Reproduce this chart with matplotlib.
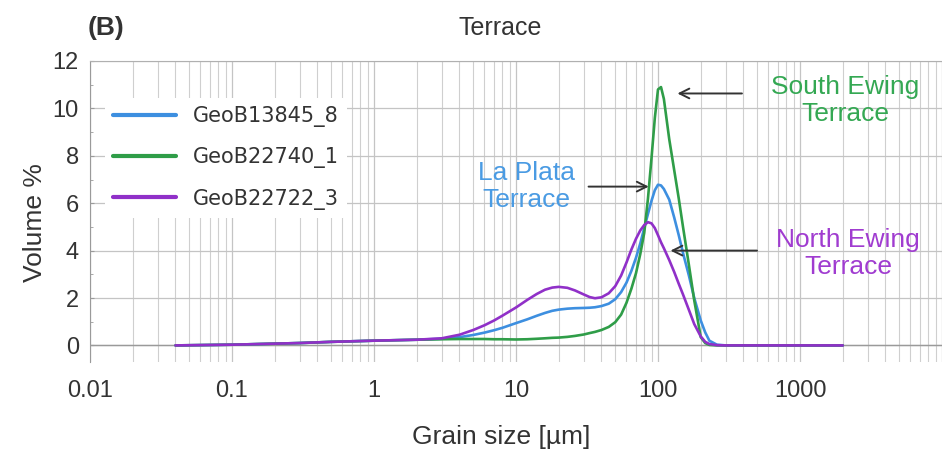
import matplotlib
matplotlib.use("Agg")
import matplotlib.pyplot as plt
from matplotlib.ticker import LogLocator, MultipleLocator, NullFormatter

# ---- data ----
sizes = [0.04, 0.1, 0.3, 0.5, 1, 2, 3, 4, 5, 6, 7, 8, 10, 12, 14, 16, 18, 20, 23,
         26, 30, 33, 36, 40, 45, 50, 55, 60, 65, 70, 75, 80, 85, 90, 95, 100, 105,
         110, 120, 130, 140, 150, 165, 180, 200, 215, 230, 260, 300, 500, 1000, 2000]
geob13845_8 = [0.0, 0.03, 0.1, 0.15, 0.2, 0.24, 0.28, 0.35, 0.44, 0.54, 0.64, 0.74,
               0.94, 1.1, 1.25, 1.37, 1.46, 1.51, 1.55, 1.57, 1.58, 1.59, 1.61, 1.66,
               1.76, 1.95, 2.25, 2.65, 3.15, 3.7, 4.3, 4.95, 5.55, 6.1, 6.55, 6.78,
               6.75, 6.6, 6.15, 5.4, 4.65, 3.9, 2.95, 2.0, 1.05, 0.55, 0.2, 0.03,
               0.0, 0.0, 0.0, 0.0]
geob22740_1 = [0.0, 0.03, 0.1, 0.15, 0.2, 0.24, 0.26, 0.27, 0.27, 0.27, 0.26, 0.26,
               0.25, 0.26, 0.28, 0.3, 0.32, 0.33, 0.36, 0.4, 0.46, 0.52, 0.57, 0.65,
               0.78, 0.98, 1.3, 1.8, 2.4, 3.05, 3.85, 4.75, 6.2, 7.9, 9.6, 10.8,
               10.9, 10.4, 8.7, 7.4, 6.2, 5.0, 3.4, 1.9, 0.35, 0.1, 0.02, 0.0,
               0.0, 0.0, 0.0, 0.0]
geob22722_3 = [0.0, 0.03, 0.1, 0.15, 0.2, 0.24, 0.3, 0.45, 0.65, 0.85, 1.05, 1.25,
               1.6, 1.92, 2.17, 2.35, 2.44, 2.47, 2.43, 2.32, 2.15, 2.04, 1.99, 2.03,
               2.2, 2.5, 2.95, 3.5, 4.05, 4.5, 4.85, 5.08, 5.2, 5.15, 4.95, 4.65,
               4.35, 4.1, 3.6, 3.1, 2.6, 2.15, 1.5, 0.9, 0.38, 0.15, 0.06, 0.01,
               0.0, 0.0, 0.0, 0.0]

series_names = ["GeoB13845_8", "GeoB22740_1", "GeoB22722_3"]
series_colors = ["#3d8fe0", "#2f9d48", "#9030c8"]
x_ticks = [0.01, 0.1, 1, 10, 100, 1000]
x_tick_labels = ["0.01", "0.1", "1", "10", "100", "1000"]
y_ticks = [0, 2, 4, 6, 8, 10, 12]

plt.rcParams['font.family'] = ['Liberation Sans', 'DejaVu Sans']

fig = plt.figure(figsize=(9.42, 4.55), dpi=100)
ax = fig.add_axes([90/942, 1-362/455, 852/942, (362-61)/455])

ax.set_xscale('log')
ax.set_xlim(0.01, 10000)
ax.set_ylim(-0.7, 12)

ax.set_xticks(x_ticks)
ax.set_xticklabels(x_tick_labels)
ax.xaxis.set_minor_locator(LogLocator(base=10, subs=range(2, 10), numticks=20))
ax.xaxis.set_minor_formatter(NullFormatter())
ax.set_yticks(y_ticks)
ax.yaxis.set_minor_locator(MultipleLocator(1))
ax.grid(True, which='major', axis='both', color='#c4c4c4', lw=0.9)
ax.grid(True, which='minor', axis='x', color='#cfcfcf', lw=0.8)
ax.axvline(10000, color='#c4c4c4', lw=0.9, zorder=0)
ax.axhline(0, color='#9a9a9a', lw=1.0, zorder=1)
ax.set_axisbelow(True)

for s in ['bottom', 'right']:
    ax.spines[s].set_visible(False)
ax.spines['left'].set_color('#9a9a9a')
ax.spines['top'].set_color('#b0b0b0')
ax.tick_params(axis='x', which='both', length=0, labelsize=17, pad=13, colors='#333333')
ax.tick_params(axis='y', which='major', direction='in', length=3, color='#9a9a9a',
               labelsize=17, pad=8, labelcolor='#333333')
ax.tick_params(axis='y', which='minor', direction='in', length=2, color='#9a9a9a')

series = [geob13845_8, geob22740_1, geob22722_3]
for vals, name, col in zip(series, series_names, series_colors):
    ax.plot(sizes, vals, color=col, lw=1.9, label=name, solid_capstyle='round',
            solid_joinstyle='round')

leg = ax.legend(loc='center left', bbox_to_anchor=(0.0176, 0.678), borderaxespad=0,
                frameon=True, facecolor='white', edgecolor='none', framealpha=1,
                prop={'family': 'DejaVu Sans', 'size': 15}, handlelength=3.0,
                handletextpad=0.8, labelspacing=0.97, borderpad=0.4)
for line in leg.get_lines():
    line.set_linewidth(3)
for t in leg.get_texts():
    t.set_color('#333333')

# annotations
arrow_kw = dict(arrowstyle='->,head_length=0.7,head_width=0.35', color='#333333', lw=1.4)
ax.annotate('', xy=(131, 10.63), xytext=(408, 10.63), arrowprops=arrow_kw)
ax.text(2075, 10.35, "South Ewing\nTerrace", color='#34a853', fontsize=19,
        ha='center', va='center', linespacing=1.15)
ax.annotate('', xy=(90, 6.7), xytext=(31, 6.7), arrowprops=arrow_kw)
ax.text(11.8, 6.7, "La Plata\nTerrace", color='#4a9be3', fontsize=19,
        ha='center', va='center', linespacing=1.15)
ax.annotate('', xy=(117, 4.0), xytext=(521, 4.0), arrowprops=arrow_kw)
ax.text(2180, 3.86, "North Ewing\nTerrace", color='#a03cd0', fontsize=19,
        ha='center', va='center', linespacing=1.15)

fig.text(500/942, 1-28/455, "Terrace", fontsize=18, ha='center', va='center', color='#333333')
fig.text(88/942, 1-28/455, "(B)", fontsize=19, fontweight='bold', ha='left', va='center',
         color='#333333')
fig.text(501/942, 1-437/455, "Grain size [µm]", fontsize=19, ha='center', va='center',
         color='#333333')
fig.text(35/942, 1-223/455, "Volume %", fontsize=19, ha='center', va='center',
         rotation=90, color='#333333')

fig.savefig("out.png", dpi=100)
